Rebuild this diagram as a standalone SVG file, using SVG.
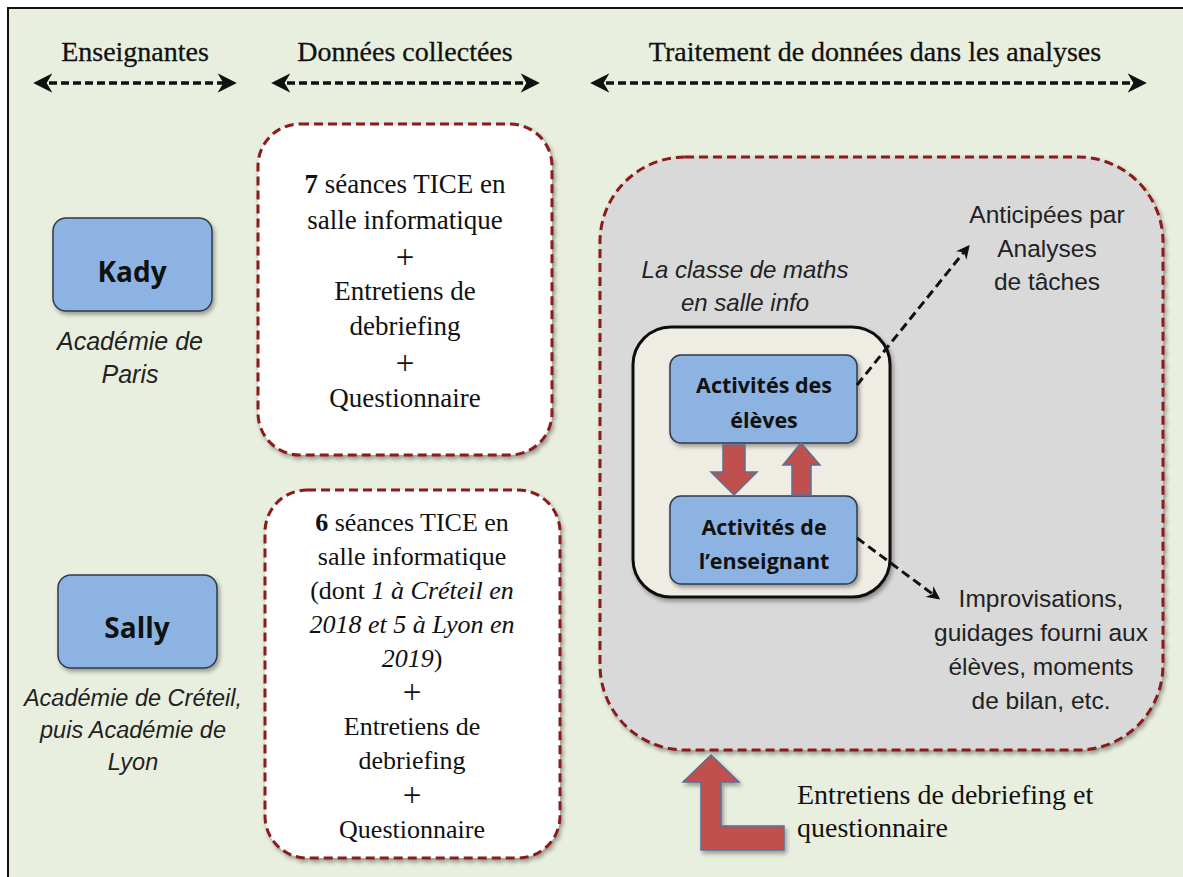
<svg xmlns="http://www.w3.org/2000/svg" width="1183" height="877" viewBox="0 0 1183 877">
<defs>
<style>
.hdr{font-family:"Liberation Serif",serif;font-size:28px;fill:#111;text-anchor:middle;stroke:#111;stroke-width:0.3}
.data{font-family:"Liberation Serif",serif;font-size:27px;fill:#111;text-anchor:middle}
.data2{font-family:"Liberation Serif",serif;font-size:26px;fill:#111;text-anchor:middle}
.plus{font-size:33px}
.name{font-family:"Open Sans","Liberation Sans",sans-serif;font-weight:bold;font-size:28px;fill:#111;text-anchor:middle}
.act{font-family:"Open Sans","Liberation Sans",sans-serif;font-weight:bold;font-size:21.5px;fill:#111;text-anchor:middle}
.ital{font-family:"Liberation Sans",sans-serif;font-style:italic;font-size:24px;fill:#222;text-anchor:middle}
.lbl{font-family:"Liberation Sans",sans-serif;font-size:24.5px;fill:#222;text-anchor:middle}
.blue{fill:#8db3e2;stroke:#2f3b4c;stroke-width:1.5}
.dred{stroke:#8b1a1a;stroke-width:3;stroke-dasharray:9 5;}
.hline{stroke:#111;stroke-width:3.5;stroke-dasharray:8 4;fill:none}
.dline{stroke:#111;stroke-width:3;stroke-dasharray:9 5;fill:none}
.red{fill:#c0504d;stroke:#5a6f96;stroke-width:1.5}
</style>
<marker id="ah" viewBox="0 0 10 10" refX="8" refY="5" markerWidth="5.5" markerHeight="5.5" orient="auto-start-reverse">
<path d="M0,0 L10,5 L0,10 L3,5 z" fill="#111"/>
</marker>
<marker id="ah2" viewBox="0 0 10 10" refX="8" refY="5" markerWidth="4.5" markerHeight="4.5" orient="auto">
<path d="M0,0 L10,5 L0,10 L3,5 z" fill="#111"/>
</marker>
<filter id="sh" x="-10%" y="-10%" width="130%" height="130%">
<feDropShadow dx="2" dy="3" stdDeviation="2" flood-color="#000" flood-opacity="0.35"/>
</filter>
</defs>
<rect x="0" y="0" width="1183" height="877" fill="#ffffff"/>
<rect x="8" y="8" width="1190" height="890" fill="#e9efdf" stroke="#111" stroke-width="2"/>

<g id="headers">
<text class="hdr" x="135" y="61">Enseignantes</text>
<text class="hdr" x="405" y="61">Données collectées</text>
<text class="hdr" x="875" y="61">Traitement de données dans les analyses</text>
</g>

<g id="connectors">
<line class="hline" x1="37" y1="83" x2="233" y2="83" marker-start="url(#ah)" marker-end="url(#ah)"/>
<line class="hline" x1="275" y1="83" x2="536" y2="83" marker-start="url(#ah)" marker-end="url(#ah)"/>
<line class="hline" x1="594" y1="83" x2="1143" y2="83" marker-start="url(#ah)" marker-end="url(#ah)"/>
</g>

<g id="kady">
<rect class="blue" x="53" y="218" width="159" height="93" rx="13" filter="url(#sh)"/>
<text class="name" x="132" y="282">Kady</text>
<text class="ital" x="130" y="350" style="font-size:25px">Académie de</text>
<text class="ital" x="130" y="383" style="font-size:25px">Paris</text>
</g>

<g id="sally">
<rect class="blue" x="58" y="575" width="159" height="93" rx="13" filter="url(#sh)"/>
<text class="name" x="137" y="638">Sally</text>
<text class="ital" x="133" y="706" style="font-size:23.5px">Académie de Créteil,</text>
<text class="ital" x="133" y="738" style="font-size:23.5px">puis Académie de</text>
<text class="ital" x="133" y="770" style="font-size:23.5px">Lyon</text>
</g>

<g id="data-kady">
<rect x="258" y="124" width="294" height="331" rx="42" fill="#ffffff" class="dred" filter="url(#sh)"/>
<text class="data" x="405" y="193"><tspan font-weight="bold">7</tspan> séances TICE  en</text>
<text class="data" x="405" y="229">salle informatique</text>
<text class="data plus" x="405" y="268">+</text>
<text class="data" x="405" y="300">Entretiens de</text>
<text class="data" x="405" y="335">debriefing</text>
<text class="data plus" x="405" y="374">+</text>
<text class="data" x="405" y="407">Questionnaire</text>
</g>

<g id="data-sally">
<rect x="265" y="490" width="295" height="368" rx="42" fill="#ffffff" class="dred" filter="url(#sh)"/>
<text class="data2" x="412" y="531"><tspan font-weight="bold">6</tspan> séances TICE en</text>
<text class="data2" x="412" y="565">salle informatique</text>
<text class="data2" x="412" y="599">(dont <tspan font-style="italic">1 à Créteil en</tspan></text>
<text class="data2" x="412" y="633"><tspan font-style="italic">2018 et 5 à Lyon en</tspan></text>
<text class="data2" x="412" y="667"><tspan font-style="italic">2019</tspan>)</text>
<text class="data2 plus" x="412" y="703">+</text>
<text class="data2" x="412" y="735">Entretiens de</text>
<text class="data2" x="412" y="769">debriefing</text>
<text class="data2 plus" x="412" y="806">+</text>
<text class="data2" x="412" y="838">Questionnaire</text>
</g>

<g id="analyses">
<rect x="600" y="157" width="563" height="593" rx="85" fill="#d9d9d9" class="dred" filter="url(#sh)"/>
<text class="ital" x="745" y="278">La classe de maths</text>
<text class="ital" x="745" y="311">en salle info</text>
<text class="lbl" x="1047" y="223">Anticipées par</text>
<text class="lbl" x="1047" y="257">Analyses</text>
<text class="lbl" x="1047" y="290">de tâches</text>
<text class="lbl" x="1041" y="607">Improvisations,</text>
<text class="lbl" x="1041" y="641">guidages fourni aux</text>
<text class="lbl" x="1041" y="675">élèves, moments</text>
<text class="lbl" x="1041" y="709">de bilan, etc.</text>
</g>

<g id="classe">
<rect x="633" y="327" width="257" height="270" rx="38" fill="#efede3" stroke="#111" stroke-width="3" filter="url(#sh)"/>
</g>

<g id="eleves">
<rect class="blue" x="670" y="355" width="187" height="88" rx="11" filter="url(#sh)"/>
<text class="act" x="764" y="393">Activités des</text>
<text class="act" x="764" y="428">élèves</text>
</g>

<g id="enseignant">
<rect class="blue" x="670" y="496" width="187" height="88" rx="11" filter="url(#sh)"/>
<text class="act" x="764" y="535">Activités de</text>
<text class="act" x="764" y="569">l’enseignant</text>
</g>

<g id="connectors-2">
<path class="red" d="M723,445 L745,445 L745,472 L757,472 L734,495 L711,472 L723,472 z"/>
<path class="red" d="M792,495 L811,495 L811,465 L820,465 L801,443 L783,465 L792,465 z"/>
<line class="dline" x1="857" y1="385" x2="968" y2="247" marker-end="url(#ah2)"/>
<line class="dline" x1="857" y1="538" x2="938" y2="598" marker-end="url(#ah2)"/>
<path class="red" filter="url(#sh)" d="M711,755 L739,782 L721,782 L721,826 L784,826 L784,850 L701,850 L701,782 L683,782 z"/>
</g>

<g id="entretiens">
<text x="797" y="804" font-family="Liberation Serif,serif" font-size="28" fill="#111">Entretiens de debriefing et</text>
<text x="797" y="837" font-family="Liberation Serif,serif" font-size="28" fill="#111">questionnaire</text>
</g>
</svg>
